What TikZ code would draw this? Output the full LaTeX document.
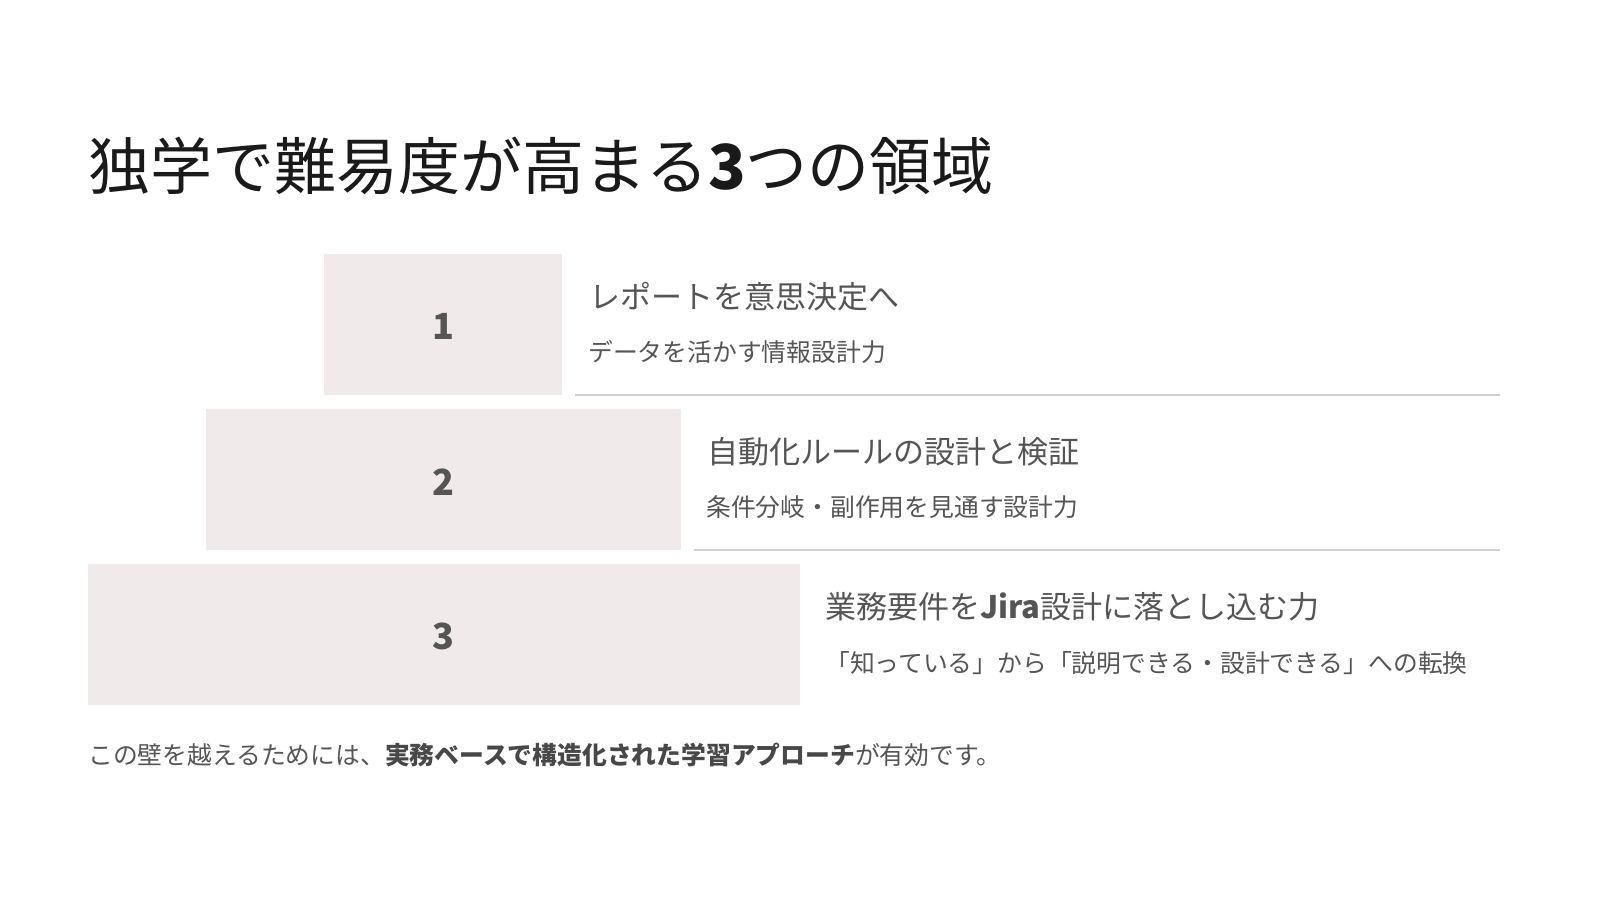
\documentclass[tikz,border=0pt]{standalone}
\usepackage{fontspec}
\setmainfont{Noto Sans CJK JP}
\newfontfamily\jp{Noto Sans CJK JP}
\definecolor{boxfill}{HTML}{F0EBEA}
\definecolor{numcol}{HTML}{555555}
\definecolor{txtcol}{HTML}{555555}
\definecolor{titlecol}{HTML}{1A1A1A}
\definecolor{rulecol}{HTML}{D0D0D0}
\tikzset{
  stepbox/.style={fill=boxfill, draw=none, inner sep=0pt},
  numlabel/.style={font=\jp\bfseries\fontsize{36}{40}\selectfont, text=numcol, inner sep=0pt},
  itemtitle/.style={anchor=base west, font=\jp\fontsize{31}{35}\selectfont, text=txtcol, inner sep=0pt},
  itemsub/.style={anchor=base west, font=\jp\fontsize{24.8}{28}\selectfont, text=txtcol, inner sep=0pt},
  sepline/.style={draw=rulecol, line width=1.5pt},
}
\begin{document}
\begin{tikzpicture}[x=1pt,y=-1pt]
\useasboundingbox (0,0) rectangle (1600,900);
\fill[white] (0,0) rectangle (1600,900);
% title
\node[anchor=base west, inner sep=0pt, text=titlecol, font=\jp\fontsize{62}{68}\selectfont] (title) at (88,189) {独学で難易度が高まる\textbf{3}つの領域};
% boxes
\fill[stepbox] (324,254) rectangle (562,395);
\fill[stepbox] (206,409) rectangle (681,550);
\fill[stepbox] (88,564) rectangle (800,705);
\coordinate (c1) at (443,326.5);
\coordinate (c2) at (443,482);
\coordinate (c3) at (443,636.5);
\node[numlabel] (n1) at (c1) {1};
\node[numlabel] (n2) at (c2) {2};
\node[numlabel] (n3) at (c3) {3};
% separators
\coordinate (l1a) at (575,395); \coordinate (l1b) at (1500,395);
\coordinate (l2a) at (694,550); \coordinate (l2b) at (1500,550);
\draw[sepline] (l1a) -- (l1b);
\draw[sepline] (l2a) -- (l2b);
% item texts
\node[itemtitle] (t1) at (589,308) {レポートを意思決定へ};
\node[itemsub] (s1) at (588,361) {データを活かす情報設計力};
\node[itemtitle] (t2) at (707,463) {自動化ルールの設計と検証};
\node[itemsub] (s2) at (706,516) {条件分岐・副作用を見通す設計力};
\node[itemtitle] (t3) at (825,618) {業務要件を\textbf{Jira}設計に落とし込む力};
\node[itemsub] (s3) at (825,672) {「知っている」から「説明できる・設計できる」への転換};
% bottom text
\node[anchor=base west, inner sep=0pt, text=txtcol, font=\jp\fontsize{24.8}{28}\selectfont] (foot) at (88,764) {この壁を越えるためには、\textbf{\color{titlecol!80}実務ベースで構造化された学習アプローチ}が有効です。};
\end{tikzpicture}
\end{document}
